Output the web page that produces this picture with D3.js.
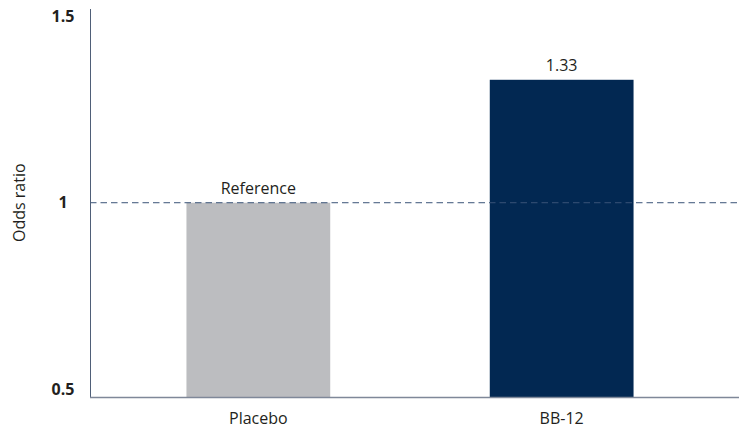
<!DOCTYPE html>
<html>
<head>
<meta charset="utf-8">
<script src="https://cdn.jsdelivr.net/npm/d3@7"></script>
<style>
  html, body { margin: 0; padding: 0; background: #fff; }
  svg { display: block; font-family: "Open Sans", "Noto Sans", sans-serif; }
</style>
</head>
<body>
<svg id="chart" width="739" height="429"></svg>
<script>
// Odds ratio by group
const categories = ["Placebo", "BB-12"];
const values = [1, 1.33];
const valueLabels = ["Reference", "1.33"];
const barColors = ["#bcbdc0", "#022852"];
const yTicks = [0.5, 1, 1.5];
const yTickLabels = ["0.5", "1", "1.5"];
const referenceValue = 1;

const svg = d3.select("#chart");
const plotLeft = 90, plotRight = 739, plotTop = 9, plotBottom = 397;

const y = d3.scaleLinear().domain([0.4785, 1.52]).range([plotBottom, plotTop]);
const x = d3.scaleBand().domain(categories).range([plotLeft, 730])
  .paddingInner(0.526).paddingOuter(0.318);

// bars
svg.selectAll("rect.bar").data(categories).join("rect")
  .attr("class", "bar")
  .attr("x", d => x(d))
  .attr("width", x.bandwidth())
  .attr("y", (d, i) => y(values[i]))
  .attr("height", (d, i) => y(y.domain()[0]) - y(values[i]))
  .attr("fill", (d, i) => barColors[i]);

// reference line
svg.append("line")
  .attr("x1", plotLeft).attr("x2", plotRight)
  .attr("y1", y(referenceValue)).attr("y2", y(referenceValue))
  .attr("stroke", "#3a5478").attr("stroke-width", 1)
  .attr("stroke-dasharray", "6.5,4");

// value labels
svg.selectAll("text.val").data(categories).join("text")
  .attr("class", "val")
  .attr("x", d => x(d) + x.bandwidth() / 2)
  .attr("y", (d, i) => y(values[i]) - 9)
  .attr("text-anchor", "middle")
  .attr("font-size", 16)
  .attr("fill", "#231f20")
  .text((d, i) => valueLabels[i]);

// axis lines
svg.append("line")
  .attr("x1", plotLeft + 0.5).attr("x2", plotLeft + 0.5)
  .attr("y1", plotTop).attr("y2", plotBottom)
  .attr("stroke", "#4f5f78").attr("stroke-width", 1);
svg.append("line")
  .attr("x1", plotLeft).attr("x2", plotRight)
  .attr("y1", plotBottom + 0.5).attr("y2", plotBottom + 0.5)
  .attr("stroke", "#7f8899").attr("stroke-width", 1.4);

// y tick labels
svg.selectAll("text.ytick").data(yTicks).join("text")
  .attr("class", "ytick")
  .attr("x", 63)
  .attr("y", d => y(d))
  .attr("dy", "0.36em")
  .attr("text-anchor", "middle")
  .attr("font-size", 16)
  .attr("font-weight", 700)
  .attr("fill", "#231f20")
  .text((d, i) => yTickLabels[i]);

// x category labels
svg.selectAll("text.xcat").data(categories).join("text")
  .attr("class", "xcat")
  .attr("x", d => x(d) + x.bandwidth() / 2)
  .attr("y", 424)
  .attr("text-anchor", "middle")
  .attr("font-size", 16)
  .attr("fill", "#231f20")
  .text(d => d);

// y axis title
svg.append("text")
  .attr("transform", `translate(25, ${y(referenceValue)}) rotate(-90)`)
  .attr("text-anchor", "middle")
  .attr("font-size", 16)
  .attr("fill", "#231f20")
  .text("Odds ratio");
</script>
</body>
</html>
